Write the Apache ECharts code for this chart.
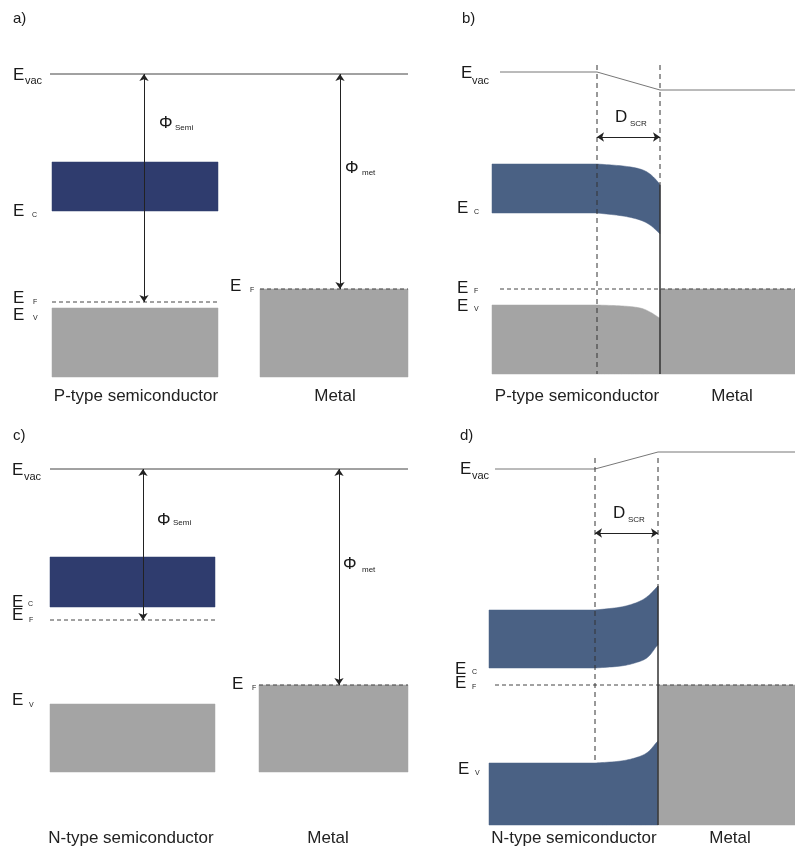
<!DOCTYPE html>
<html><head><meta charset="utf-8">
<script src="https://cdn.jsdelivr.net/npm/echarts@6/dist/echarts.min.js"></script>
<style>html,body{margin:0;padding:0;background:#fff}#c{width:795px;height:856px}</style>
</head><body><div id="c"></div>
<script>
// ===== DATA (energy in eV relative to semiconductor vacuum level; position in arbitrary units) =====
// Panel a – p-type semiconductor and metal, separated
const aVacX = [5.0, 40.8];
const aVacE = [0, 0];
const aSemiX = [5.2, 21.8];
const aCBtop = [-1.76, -1.76];
const aCBbot = [-2.74, -2.74];
const aVBtop = [-4.68, -4.68];
const aVBbot = [-6.06, -6.06];
const aEFsemi = [-4.56, -4.56];
const aMetalX = [26.0, 40.8];
const aMetalTop = [-4.30, -4.30];
const aMetalBot = [-6.06, -6.06];
const aPhiSemi = [14.4, 0, -4.56];
const aPhiMet = [34.0, 0, -4.30];

// Panel b – p-type semiconductor / metal contact (junction at x = 0)
const bVacX = [-16.0, -6.3, 0, 13.5];
const bVacE = [0, 0, -0.36, -0.36];
const bX = [-16.8, -6.3, -3.7, -2.0, -1.0, -0.2, 0];
const bCBtop = [-1.84, -1.84, -1.88, -1.94, -2.04, -2.20, -2.26];
const bCBbot = [-2.82, -2.82, -2.88, -2.96, -3.06, -3.20, -3.24];
const bVBtop = [-4.66, -4.66, -4.68, -4.72, -4.80, -4.90, -4.92];
const bVBbot = [-6.04, -6.04, -6.04, -6.04, -6.04, -6.04, -6.04];
const bEFX = [-16.0, 13.5];
const bEF = [-4.34, -4.34];
const bMetalX = [0, 13.5];
const bMetalTop = [-4.34, -4.34];
const bMetalBot = [-6.04, -6.04];
const bSCR = [-6.3, 0];
const bSCRlevel = -1.30;
const bDashTop = 0.14;

// Panel c – n-type semiconductor and metal, separated
const cVacX = [5.0, 40.8];
const cVacE = [0, 0];
const cSemiX = [5.0, 21.5];
const cCBtop = [-1.76, -1.76];
const cCBbot = [-2.76, -2.76];
const cEFsemi = [-3.02, -3.02];
const cVBtop = [-4.70, -4.70];
const cVBbot = [-6.06, -6.06];
const cMetalX = [25.9, 40.8];
const cMetalTop = [-4.32, -4.32];
const cMetalBot = [-6.06, -6.06];
const cPhiSemi = [14.3, 0, -3.02];
const cPhiMet = [33.9, 0, -4.32];

// Panel d – n-type semiconductor / metal contact (junction at x = 0)
const dVacX = [-16.3, -6.3, 0, 13.7];
const dVacE = [0, 0, 0.34, 0.34];
const dX = [-16.9, -6.3, -3.7, -2.0, -1.0, -0.2, 0];
const dCBtop = [-2.82, -2.82, -2.76, -2.66, -2.54, -2.38, -2.34];
const dCBbot = [-3.98, -3.98, -3.94, -3.86, -3.76, -3.56, -3.52];
const dVBtop = [-5.88, -5.88, -5.84, -5.76, -5.66, -5.48, -5.44];
const dVBbot = [-7.12, -7.12, -7.12, -7.12, -7.12, -7.12, -7.12];
const dEFX = [-16.3, 13.7];
const dEF = [-4.32, -4.32];
const dMetalX = [0, 13.7];
const dMetalTop = [-4.32, -4.32];
const dMetalBot = [-7.12, -7.12];
const dSCR = [-6.3, 0];
const dSCRlevel = -1.28;
const dDashTop = 0.22;

// ===== RENDERING =====
const FONT = '"Liberation Sans", Arial, Helvetica, sans-serif';
const NAVY = '#2f3c6e', SLATE = '#4a6184', GRAY = '#a4a4a4';

// Smooth drawing of an edge through the read points (rendering only, like smooth:true).
function smoothEdge(pts) {
  if (pts.length < 3) return pts.slice();
  const out = [pts[0]];
  // flat start: straight segment to second point, spline through the rest
  const sp = pts.slice(1);
  out.push(sp[0]);
  for (let i = 0; i < sp.length - 1; i++) {
    const p0 = sp[Math.max(i - 1, 0)], p1 = sp[i], p2 = sp[i + 1], p3 = sp[Math.min(i + 2, sp.length - 1)];
    const c1 = [p1[0] + (p2[0] - p0[0]) / 6, p1[1] + (p2[1] - p0[1]) / 6];
    const c2 = [p2[0] - (p3[0] - p1[0]) / 6, p2[1] - (p3[1] - p1[1]) / 6];
    for (let k = 1; k <= 12; k++) {
      const t = k / 12, u = 1 - t;
      out.push([
        u * u * u * p1[0] + 3 * u * u * t * c1[0] + 3 * u * t * t * c2[0] + t * t * t * p2[0],
        u * u * u * p1[1] + 3 * u * u * t * c1[1] + 3 * u * t * t * c2[1] + t * t * t * p2[1]
      ]);
    }
  }
  return out;
}
function renderBand(params, api) {
  if (params.dataIndexInside !== 0) return null;
  const n = params.dataInsideLength;
  const tops = [], bots = [];
  for (let i = 0; i < n; i++) {
    tops.push(api.coord([api.value(0, i), api.value(1, i)]));
    bots.push(api.coord([api.value(0, i), api.value(2, i)]));
  }
  const pts = smoothEdge(tops).concat(smoothEdge(bots).reverse());
  const c = api.visual('color');
  return { type: 'polygon', shape: { points: pts }, style: { fill: c, stroke: c, lineWidth: 0.5 } };
}
function band(gi, xs, tops, bots, color) {
  return { type: 'custom', xAxisIndex: gi, yAxisIndex: gi, z: 1, silent: true, clip: false,
    itemStyle: { color: color }, encode: { x: 0, y: [1, 2] },
    data: xs.map((x, i) => [x, tops[i], bots[i]]), renderItem: renderBand };
}
function line(gi, xs, ys, color, type, width, z) {
  return { type: 'line', xAxisIndex: gi, yAxisIndex: gi, data: xs.map((x, i) => [x, ys[i]]),
    symbol: 'none', silent: true, clip: false, z: z || 3, animation: false,
    lineStyle: { color: color, width: width || 1, type: type || 'solid' } };
}
function arrow(gi, p1, p2) {
  return { type: 'line', xAxisIndex: gi, yAxisIndex: gi, data: [p1], symbol: 'none', silent: true, z: 4,
    lineStyle: { opacity: 0 },
    markLine: { silent: true, symbol: ['arrow', 'arrow'], symbolSize: [7, 7], animation: false,
      label: { show: false }, emphasis: { disabled: true },
      lineStyle: { color: '#222', width: 1, type: 'solid' },
      data: [[{ coord: p1 }, { coord: p2 }]] } };
}

const series = [
  // a
  band(0, aSemiX, aCBtop, aCBbot, NAVY),
  band(0, aSemiX, aVBtop, aVBbot, GRAY),
  band(0, aMetalX, aMetalTop, aMetalBot, GRAY),
  line(0, aVacX, aVacE, '#444'),
  line(0, aSemiX, aEFsemi, '#444', [4, 3]),
  line(0, aMetalX, aMetalTop, '#444', [4, 3]),
  arrow(0, [aPhiSemi[0], aPhiSemi[1]], [aPhiSemi[0], aPhiSemi[2]]),
  arrow(0, [aPhiMet[0], aPhiMet[1]], [aPhiMet[0], aPhiMet[2]]),
  // b
  band(1, bX, bCBtop, bCBbot, SLATE),
  band(1, bX, bVBtop, bVBbot, GRAY),
  band(1, bMetalX, bMetalTop, bMetalBot, GRAY),
  line(1, bVacX, bVacE, '#777'),
  line(1, bEFX, bEF, '#444', [4, 3]),
  line(1, [bSCR[0], bSCR[0]], [bDashTop, bVBbot[0]], '#333', [5, 4]),
  line(1, [bSCR[1], bSCR[1]], [bDashTop, bCBtop[bCBtop.length - 1]], '#333', [5, 4]),
  line(1, [0, 0], [bCBtop[bCBtop.length - 1], bVBbot[0]], '#333', 'solid', 1.5),
  arrow(1, [bSCR[0], bSCRlevel], [bSCR[1], bSCRlevel]),
  // c
  band(2, cSemiX, cCBtop, cCBbot, NAVY),
  band(2, cSemiX, cVBtop, cVBbot, GRAY),
  band(2, cMetalX, cMetalTop, cMetalBot, GRAY),
  line(2, cVacX, cVacE, '#444'),
  line(2, cSemiX, cEFsemi, '#444', [4, 3]),
  line(2, cMetalX, cMetalTop, '#444', [4, 3]),
  arrow(2, [cPhiSemi[0], cPhiSemi[1]], [cPhiSemi[0], cPhiSemi[2]]),
  arrow(2, [cPhiMet[0], cPhiMet[1]], [cPhiMet[0], cPhiMet[2]]),
  // d
  band(3, dX, dCBtop, dCBbot, SLATE),
  band(3, dX, dVBtop, dVBbot, SLATE),
  band(3, dMetalX, dMetalTop, dMetalBot, GRAY),
  line(3, dVacX, dVacE, '#777'),
  line(3, dEFX, dEF, '#444', [4, 3]),
  line(3, [dSCR[0], dSCR[0]], [dDashTop, dVBtop[1]], '#333', [5, 4]),
  line(3, [dSCR[1], dSCR[1]], [dDashTop, dCBtop[dCBtop.length - 1]], '#333', [5, 4]),
  line(3, [0, 0], [dCBtop[dCBtop.length - 1], dVBbot[0]], '#333', 'solid', 1.5),
  arrow(3, [dSCR[0], dSCRlevel], [dSCR[1], dSCRlevel])
];

function txt(x, y, s, size, align, color) {
  return { type: 'text', silent: true, z: 10,
    style: { x: x, y: y, text: s, fontSize: size, fontFamily: FONT, fill: color || '#1a1a1a',
      align: align || 'left', verticalAlign: 'middle' } };
}
function lab(x, y, main, sub, sx, sy, subSize, mainSize) {
  return [txt(x, y, main, mainSize || 17), txt(sx, sy, sub, subSize)];
}
const G = [].concat(
  // a
  [txt(13, 19, 'a)', 15)],
  lab(13, 75, 'E', 'vac', 25, 81, 11),
  lab(13, 211, 'E', 'C', 32, 215, 7),
  lab(13, 298, 'E', 'F', 33, 302, 7),
  lab(13, 315, 'E', 'V', 33, 318, 7),
  lab(230, 286, 'E', 'F', 250, 290, 7),
  lab(159, 123, 'Φ', 'Semi', 175, 128, 8),
  lab(345, 168, 'Φ', 'met', 362, 173, 8),
  [txt(136, 396, 'P-type semiconductor', 17, 'center', '#222'), txt(335, 396, 'Metal', 17, 'center', '#222')],
  // b
  [txt(462, 19, 'b)', 15)],
  lab(461, 73, 'E', 'vac', 472, 81, 11),
  lab(457, 208, 'E', 'C', 474, 212, 7),
  lab(457, 288, 'E', 'F', 474, 291, 7),
  lab(457, 306, 'E', 'V', 474, 309, 7),
  lab(615, 117, 'D', 'SCR', 630, 124, 8),
  [txt(577, 396, 'P-type semiconductor', 17, 'center', '#222'), txt(732, 396, 'Metal', 17, 'center', '#222')],
  // c
  [txt(13, 436, 'c)', 15)],
  lab(12, 470, 'E', 'vac', 24, 477, 11),
  lab(157, 520, 'Φ', 'Semi', 173, 523, 8),
  lab(343, 564, 'Φ', 'met', 362, 570, 8),
  lab(12, 602, 'E', 'C', 28, 604, 7),
  lab(12, 615, 'E', 'F', 29, 620, 7),
  lab(12, 700, 'E', 'V', 29, 705, 7),
  lab(232, 684, 'E', 'F', 252, 688, 7),
  [txt(131, 838, 'N-type semiconductor', 17, 'center', '#222'), txt(328, 838, 'Metal', 17, 'center', '#222')],
  // d
  [txt(460, 436, 'd)', 15)],
  lab(460, 469, 'E', 'vac', 472, 476, 11),
  lab(613, 513, 'D', 'SCR', 628, 520, 8),
  lab(455, 669, 'E', 'C', 472, 672, 7),
  lab(455, 683, 'E', 'F', 472, 687, 7),
  lab(458, 769, 'E', 'V', 475, 773, 7),
  [txt(574, 838, 'N-type semiconductor', 17, 'center', '#222'), txt(730, 838, 'Metal', 17, 'center', '#222')]
);

const grids = [
  { left: 0, top: 44, width: 410, height: 400 },
  { left: 400, top: 42, width: 395, height: 400 },
  { left: 0, top: 439, width: 410, height: 400 },
  { left: 398, top: 439, width: 397, height: 400 }
];
const xr = [[0, 41], [-26, 13.5], [0, 41], [-26, 13.7]];

const chart = echarts.init(document.getElementById('c'), null, { renderer: 'canvas' });
chart.setOption({
  backgroundColor: '#ffffff',
  animation: false,
  grid: grids,
  xAxis: xr.map((r, i) => ({ type: 'value', gridIndex: i, min: r[0], max: r[1], show: false })),
  yAxis: grids.map((g, i) => ({ type: 'value', gridIndex: i, min: -7.4, max: 0.6, show: false })),
  series: series,
  graphic: G
});
</script></body></html>
